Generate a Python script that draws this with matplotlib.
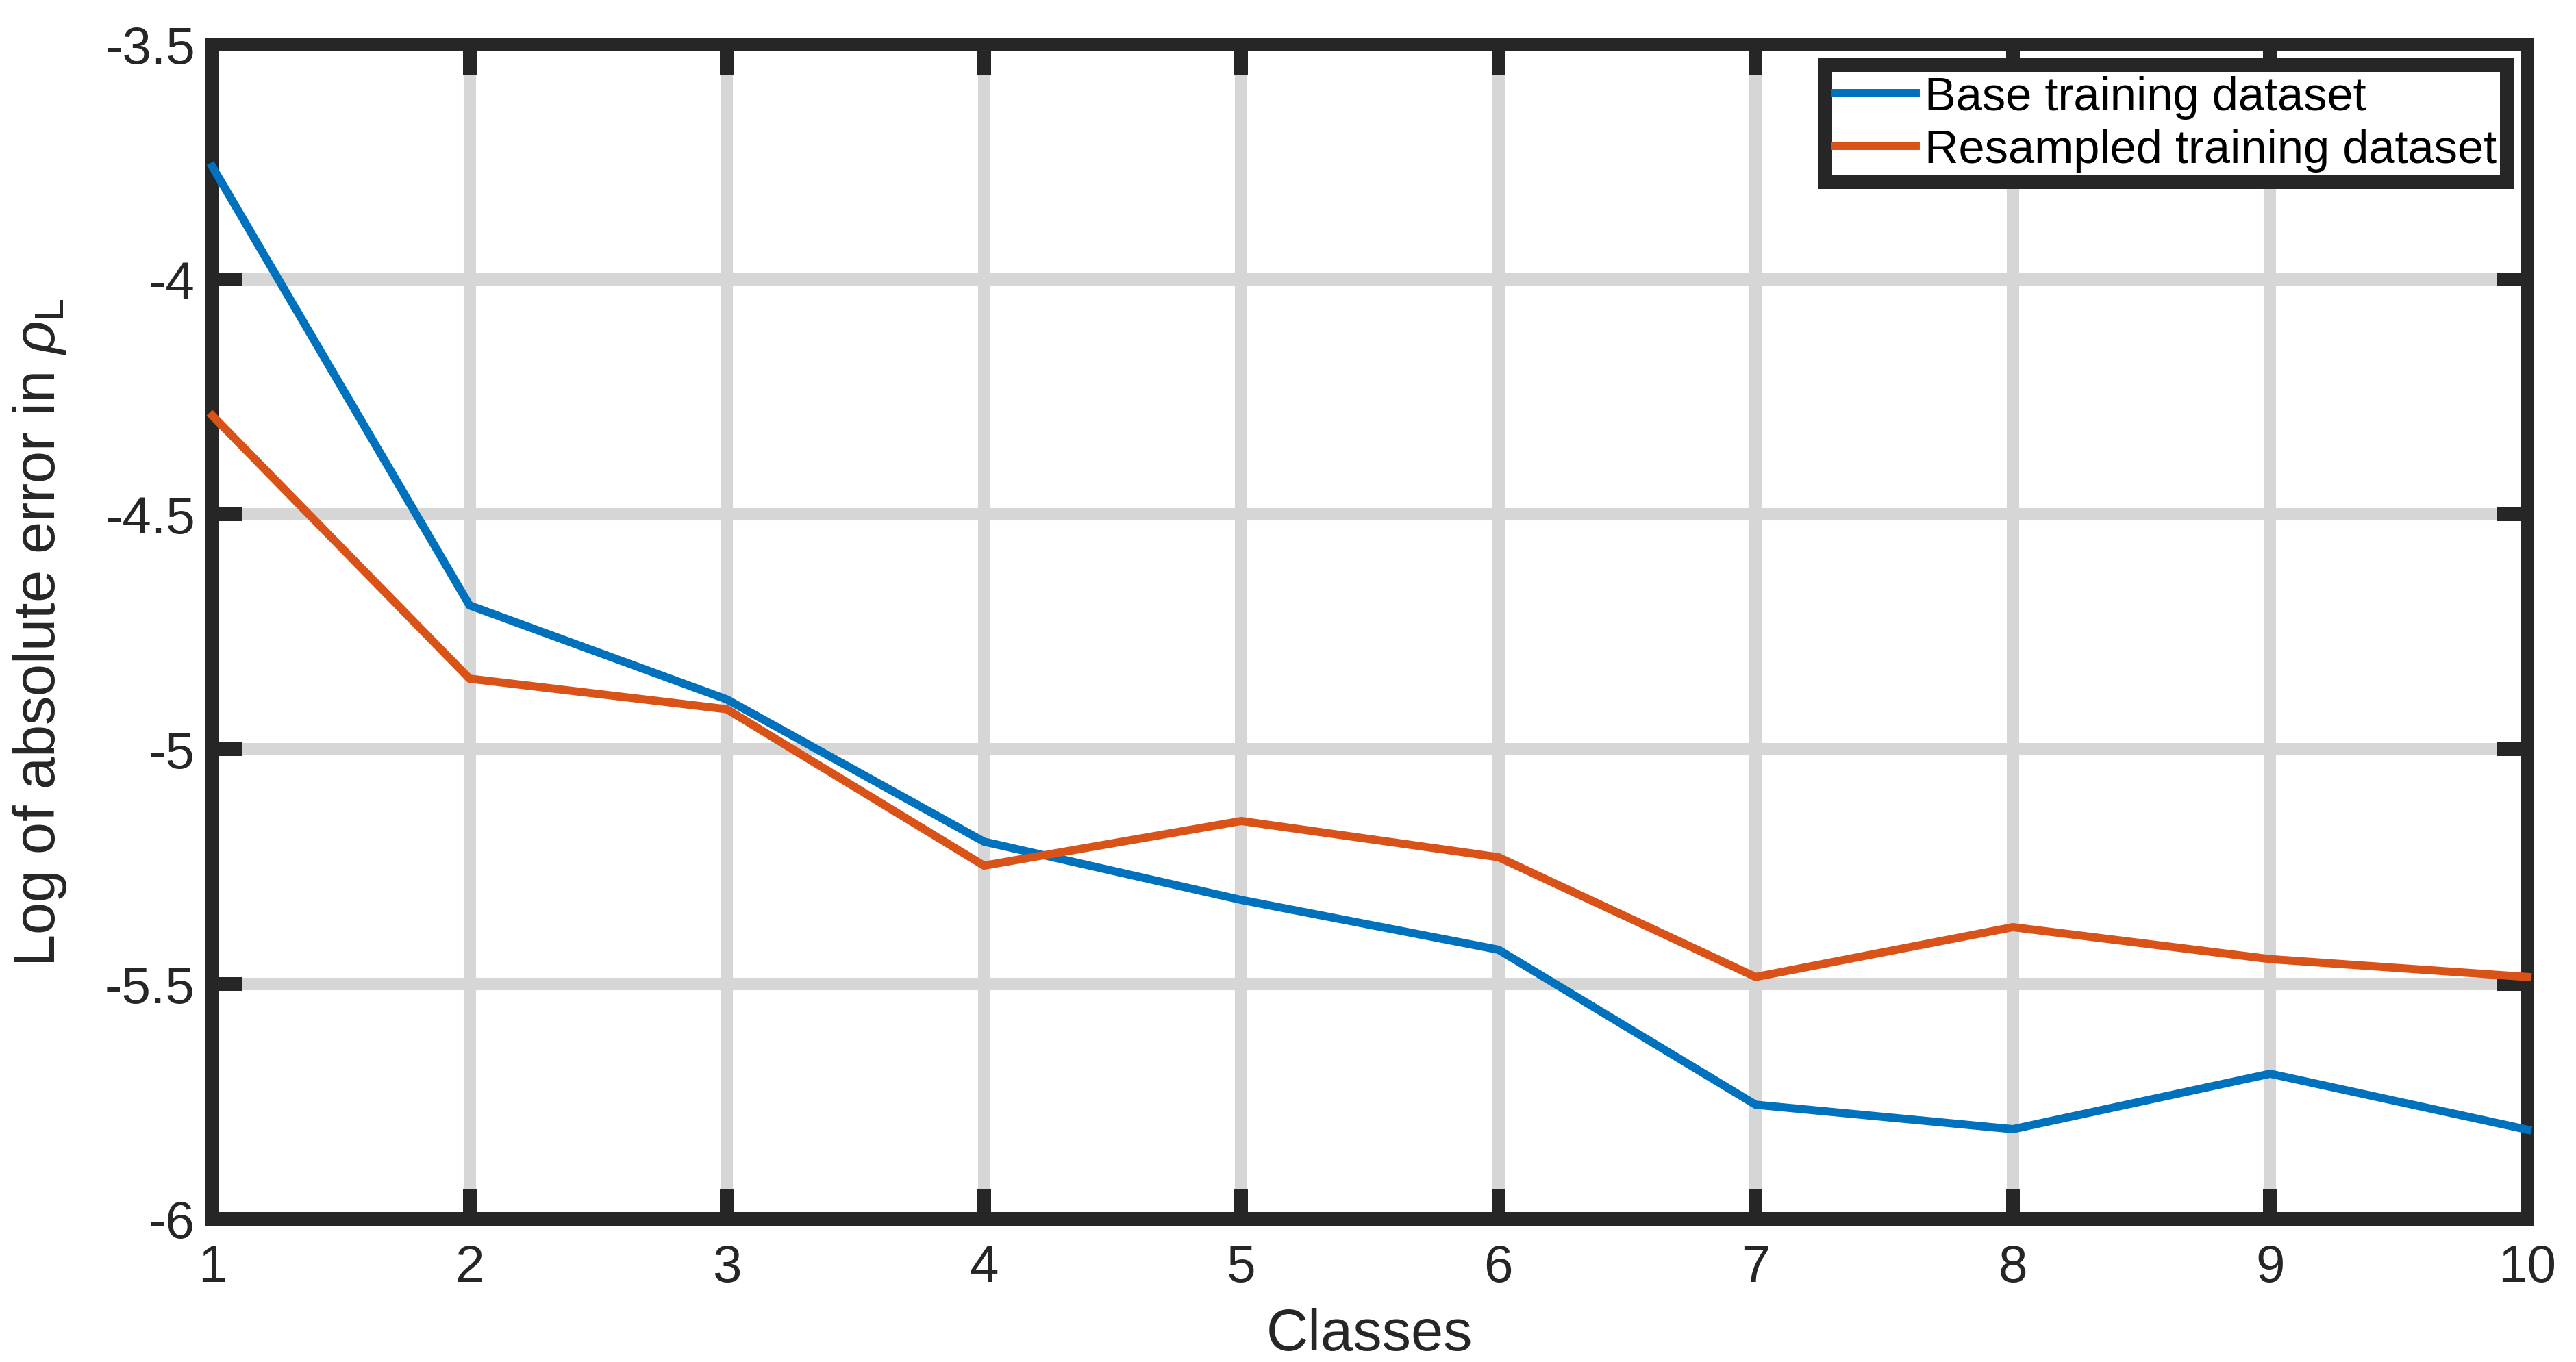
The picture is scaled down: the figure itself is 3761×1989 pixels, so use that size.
import numpy as np
import matplotlib
matplotlib.use("Agg")
import matplotlib.pyplot as plt
from matplotlib.ticker import FormatStrFormatter

# valores
clases = [1, 2, 3, 4, 5, 6, 7, 8, 9, 10]
base = [-3.76, -4.694, -4.894, -5.197, -5.321, -5.427, -5.757, -5.809, -5.691, -5.81]
remuestreado = [-4.29, -4.85, -4.915, -5.248, -5.153, -5.23, -5.485, -5.379, -5.447, -5.485]
etiquetas = ['Base training dataset', 'Resampled training dataset']
yticks = [-6, -5.5, -5, -4.5, -4, -3.5]

plt.rcParams['font.family'] = ['Liberation Sans', 'DejaVu Sans']
plt.rcParams['mathtext.fontset'] = 'custom'
plt.rcParams['mathtext.rm'] = 'Liberation Sans'
plt.rcParams['mathtext.it'] = 'Liberation Sans:italic'
plt.rcParams['axes.unicode_minus'] = False

oscuro = '#262626'
ancho = 7.2  # ~20 px a 200 dpi

fig = plt.figure(figsize=(18.81, 9.95), dpi=200)
ax = fig.add_axes([310 / 3762, 1 - 1781 / 1990, (3690 - 310) / 3762, (1781 - 66) / 1990])

ax.plot(clases, base, color='#0072BD', lw=4.3, label=etiquetas[0], zorder=3, clip_on=False)
ax.plot(clases, remuestreado, color='#D95319', lw=4.3, label=etiquetas[1], zorder=3, clip_on=False)

ax.set_xlim(1, 10)
ax.set_ylim(-6, -3.5)
ax.set_xticks(clases)
ax.set_yticks(yticks)
ax.yaxis.set_major_formatter(FormatStrFormatter('%g'))

ax.grid(True, color='#d6d6d6', lw=6.5, zorder=0)
ax.set_axisbelow(True)

for s in ax.spines.values():
    s.set_linewidth(ancho)
    s.set_color(oscuro)

ax.tick_params(axis='both', direction='in', length=16, width=ancho, color=oscuro,
               labelcolor=oscuro, labelsize=27.5, top=True, right=True)
ax.tick_params(axis='x', pad=13)
ax.tick_params(axis='y', pad=9)

ax.set_xlabel('Classes', fontsize=30.5, color=oscuro, labelpad=8)
ax.set_ylabel(r'Log of absolute error in $\rho_\mathrm{L}$', fontsize=30.5, color=oscuro, labelpad=19)

leg = ax.legend(loc='upper right', fontsize=24.7, frameon=True, fancybox=False,
                edgecolor=oscuro, framealpha=1, borderpad=0.22, labelspacing=0.2,
                handlelength=1.7, handletextpad=0.2, borderaxespad=0.43)
leg.get_frame().set_linewidth(ancho)
for t in leg.get_texts():
    t.set_color('black')

fig.savefig('out.png', dpi=200)
plt.close(fig)
